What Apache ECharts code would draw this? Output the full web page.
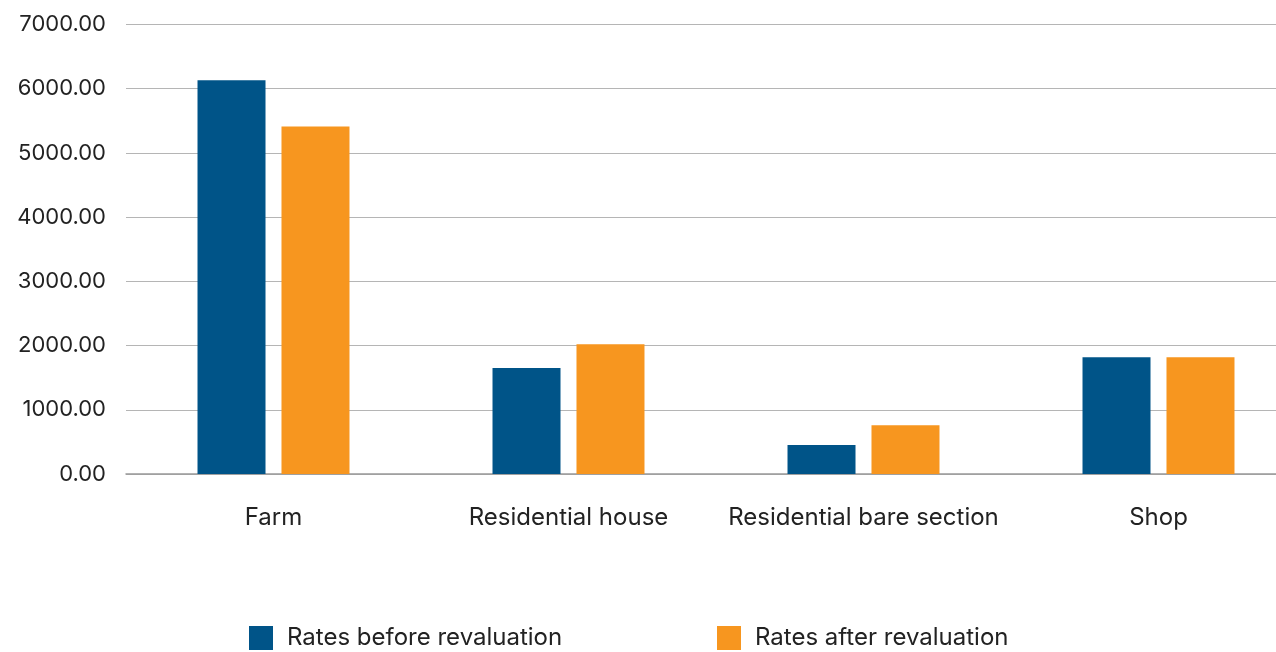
<!DOCTYPE html>
<html>
<head>
<meta charset="utf-8">
<script src="https://cdn.jsdelivr.net/npm/echarts@6/dist/echarts.min.js"></script>
<style>
html,body{margin:0;padding:0;background:#fff;overflow:hidden;width:1276px;height:652px;}
#chart{width:1310px;height:652px;}
</style>
</head>
<body>
<div id="chart"></div>
<script>
const categories = ['Farm', 'Residential house', 'Residential bare section', 'Shop'];
const seriesNames = ['Rates before revaluation', 'Rates after revaluation'];
const ratesBefore = [6130, 1650, 450, 1820];
const ratesAfter = [5410, 2020, 760, 1820];
const yTicks = { min: 0, max: 7000, interval: 1000 };

const chart = echarts.init(document.getElementById('chart'));
const font = 'Inter, Roboto, sans-serif';
const legendText = { fontFamily: font, fontSize: 24, color: '#222', padding: [0, 0, 0, 9] };
chart.setOption({
  animation: false,
  grid: { left: 126, top: 24.5, width: 1180, height: 449.5, containLabel: false },
  legend: [
    { left: 244, top: 621, itemWidth: 24, itemHeight: 24, icon: 'rect', textStyle: legendText, data: [seriesNames[0]] },
    { left: 712, top: 621, itemWidth: 24, itemHeight: 24, icon: 'rect', textStyle: legendText, data: [seriesNames[1]] }
  ],
  xAxis: {
    type: 'category',
    data: categories,
    axisLine: { lineStyle: { color: '#999', width: 1.5 } },
    axisTick: { show: false },
    axisLabel: { interval: 0, fontFamily: font, fontSize: 24, color: '#222', margin: 32 }
  },
  yAxis: {
    type: 'value',
    min: yTicks.min, max: yTicks.max, interval: yTicks.interval,
    axisLine: { show: false },
    axisTick: { show: false },
    splitLine: { lineStyle: { color: '#b5b5b5', width: 1.2 } },
    axisLabel: { fontFamily: font, fontSize: 22, color: '#222', margin: 20, formatter: v => v.toFixed(2) }
  },
  series: [
    { name: seriesNames[0], type: 'bar', data: ratesBefore, barWidth: 68, barGap: '23.5%', itemStyle: { color: '#005488' } },
    { name: seriesNames[1], type: 'bar', data: ratesAfter, barWidth: 68, itemStyle: { color: '#f7961f' } }
  ]
});
</script>
</body>
</html>
